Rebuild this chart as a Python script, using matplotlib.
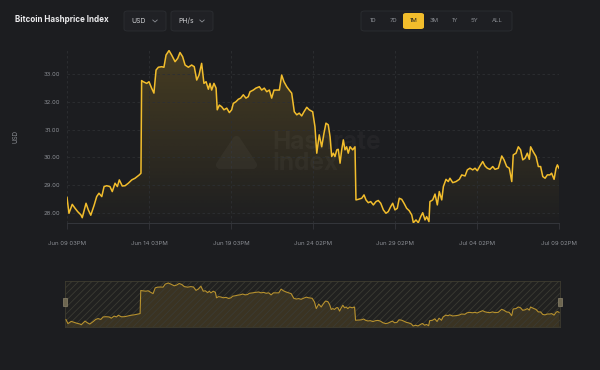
import numpy as np
import matplotlib
matplotlib.use('Agg')
import matplotlib.pyplot as plt
from matplotlib.patches import Polygon, Rectangle, FancyBboxPatch

# days since Jun 09 03PM and hashprice (USD / PH/s / day)
days = [0.00, 0.12, 0.32, 0.49, 0.65, 0.85, 0.93, 1.16, 1.30, 1.45, 1.66, 1.81, 1.95, 2.12,
        2.26, 2.42, 2.62, 2.76, 2.93, 3.07, 3.19, 3.37, 3.54, 3.74, 3.95, 4.15, 4.41, 4.51,
        4.55, 4.65, 4.86, 5.00, 5.16, 5.30, 5.43, 5.57, 5.77, 5.91, 6.04, 6.22, 6.38, 6.59,
        6.75, 6.89, 7.05, 7.20, 7.40, 7.60, 7.76, 7.91, 8.05, 8.21, 8.35, 8.48, 8.62, 8.72,
        8.82, 8.96, 9.09, 9.16, 9.29, 9.43, 9.57, 9.74, 9.90, 10.04, 10.14, 10.30, 10.45,
        10.59, 10.75, 10.91, 11.05, 11.16, 11.36, 11.52, 11.73, 11.87, 12.03, 12.18, 12.34,
        12.48, 12.62, 12.82, 12.95, 13.09, 13.23, 13.40, 13.55, 13.70, 13.86, 14.01, 14.16,
        14.31, 14.45, 14.62, 14.77, 14.98, 15.12, 15.23, 15.38, 15.53, 15.67, 15.79, 15.93,
        16.04, 16.14, 16.24, 16.34, 16.45, 16.54, 16.65, 16.75, 16.85, 16.95, 17.05, 17.15,
        17.26, 17.42, 17.56, 17.62, 17.76, 17.97, 18.11, 18.23, 18.37, 18.52, 18.68, 18.84,
        18.98, 19.13, 19.29, 19.45, 19.59, 19.74, 19.86, 20.00, 20.14, 20.26, 20.41, 20.55,
        20.71, 20.87, 21.02, 21.12, 21.28, 21.42, 21.57, 21.69, 21.83, 21.93, 22.07, 22.13,
        22.30, 22.44, 22.58, 22.70, 22.85, 22.95, 23.11, 23.25, 23.35, 23.52, 23.72, 23.92,
        24.07, 24.27, 24.41, 24.57, 24.74, 24.88, 25.02, 25.18, 25.35, 25.49, 25.63, 25.79,
        25.96, 26.10, 26.30, 26.51, 26.65, 26.81, 26.97, 27.12, 27.21, 27.38, 27.52, 27.66,
        27.79, 27.93, 28.07, 28.19, 28.27, 28.43, 28.60, 28.74, 28.88, 29.01, 29.15, 29.29,
        29.45, 29.55, 29.70, 29.82, 29.90, 30.00]
hashprice = [28.56, 27.99, 28.31, 28.17, 28.05, 27.93, 27.83, 28.35, 28.11, 27.92, 28.29, 28.59,
             28.71, 28.59, 28.95, 28.98, 28.95, 28.77, 29.07, 28.95, 29.19, 28.97, 28.98, 29.07,
             29.19, 29.25, 29.37, 29.43, 32.76, 32.72, 32.66, 32.72, 32.49, 32.31, 33.14, 33.24,
             33.26, 33.24, 33.68, 33.84, 33.68, 33.44, 33.56, 33.77, 33.62, 33.32, 33.24, 33.32,
             33.26, 32.78, 32.96, 33.38, 32.66, 32.72, 32.45, 32.66, 32.42, 32.66, 32.49, 31.71,
             31.88, 31.82, 31.71, 31.77, 31.61, 31.71, 31.94, 32.00, 32.09, 32.13, 32.25, 32.13,
             32.18, 32.36, 32.42, 32.49, 32.54, 32.42, 32.49, 32.36, 32.42, 32.13, 32.42, 32.42,
             32.42, 32.96, 32.72, 32.54, 32.42, 32.31, 31.64, 31.53, 31.59, 31.49, 31.64, 31.80,
             31.71, 31.64, 31.10, 30.15, 30.81, 30.38, 30.87, 31.23, 31.17, 30.74, 30.03, 30.15,
             30.03, 30.27, 30.29, 29.79, 30.27, 30.63, 30.27, 30.38, 30.15, 30.38, 30.27, 30.38,
             28.47, 28.49, 28.53, 28.65, 28.47, 28.37, 28.41, 28.29, 28.41, 28.45, 28.35, 28.11,
             27.99, 28.05, 28.23, 28.35, 28.11, 28.17, 28.53, 28.49, 28.35, 28.17, 28.08, 27.93,
             27.65, 27.75, 27.65, 27.87, 28.01, 27.75, 27.87, 27.69, 28.41, 28.47, 28.68, 28.29,
             28.77, 28.47, 28.95, 29.21, 29.13, 29.25, 29.09, 29.13, 29.21, 29.37, 29.33, 29.55,
             29.61, 29.55, 29.61, 29.52, 29.69, 29.85, 29.69, 29.61, 29.57, 29.67, 29.57, 29.61,
             30.05, 29.91, 29.67, 29.61, 29.13, 30.09, 30.15, 30.38, 30.27, 29.91, 29.97, 30.15,
             29.93, 30.38, 30.20, 30.03, 29.67, 29.67, 29.31, 29.25, 29.37, 29.37, 29.43, 29.21,
             29.61, 29.73, 29.61]

tick_days = [0, 5, 10, 15, 20, 25, 30]
tick_labels = ['Jun 09 03PM', 'Jun 14 03PM', 'Jun 19 03PM', 'Jun 24 02PM',
               'Jun 29 02PM', 'Jul 04 02PM', 'Jul 09 02PM']
y_ticks = [28, 29, 30, 31, 32, 33]
ranges = ['1D', '7D', '1M', '3M', '1Y', '5Y', 'ALL']
active_range = '1M'

bg = '#1c1d20'
yellow = '#f2bd2c'
grey = '#8b8e94'
gridc = '#2d2f33'

plt.rcParams['font.family'] = ['Inter', 'DejaVu Sans']
plt.rcParams['hatch.linewidth'] = 0.6
W, H = 600, 370

def fx(px):
    return px / W

def fy(py):
    return 1 - py / H

# triangle with rounded corners, in pixel coords
def rounded_triangle(pts, r, n=12):
    pts = np.array(pts, dtype=float)
    out = []
    k = len(pts)
    for i in range(k):
        p_prev, p, p_next = pts[i - 1], pts[i], pts[(i + 1) % k]
        e1 = p - p_prev
        e2 = p_next - p
        # outward normals (clockwise in screen y-down coords handled by sign)
        n1 = np.array([e1[1], -e1[0]]) / np.hypot(*e1)
        n2 = np.array([e2[1], -e2[0]]) / np.hypot(*e2)
        a1 = np.arctan2(n1[1], n1[0])
        a2 = np.arctan2(n2[1], n2[0])
        if a2 < a1:
            a2 += 2 * np.pi
        for a in np.linspace(a1, a2, n):
            out.append(p + r * np.array([np.cos(a), np.sin(a)]))
    return np.array(out)

fig = plt.figure(figsize=(6, 3.7), dpi=100, facecolor=bg)

# header
fig.text(fx(15), fy(20), 'Bitcoin Hashprice Index', color='#ececee', fontsize=5.8,
         fontweight='bold', va='center')

def dropdown(x0, x1, label):
    box = FancyBboxPatch((fx(x0), fy(31)), fx(x1 - x0), (31 - 11) / H,
                         boxstyle='round,pad=0,rounding_size=0.006',
                         transform=fig.transFigure, facecolor='#202125',
                         edgecolor='#2c2e32', lw=0.6)
    fig.patches.append(box)
    fig.text(fx(x0 + 7), fy(21), label, color='#d2d3d6', fontsize=4.9, va='center')
    cx = x1 - 11
    fig.lines.append(plt.Line2D([fx(cx - 2.2), fx(cx), fx(cx + 2.2)],
                                [fy(20), fy(22), fy(20)], transform=fig.transFigure,
                                color=grey, lw=0.6))

dropdown(124, 166, 'USD')
dropdown(171, 213, 'PH/s')

# range selector
group = FancyBboxPatch((fx(361), fy(31)), fx(512 - 361), (31 - 11) / H,
                       boxstyle='round,pad=0,rounding_size=0.006',
                       transform=fig.transFigure, facecolor='#1e1f23',
                       edgecolor='#2c2e32', lw=0.6)
fig.patches.append(group)
btn_x = [373, 393, 413.5, 434, 455, 474.5, 497]
for lab, bx in zip(ranges, btn_x):
    col = grey
    if lab == active_range:
        hl = FancyBboxPatch((fx(bx - 10.5), fy(29)), fx(21), 16 / H,
                            boxstyle='round,pad=0,rounding_size=0.005',
                            transform=fig.transFigure, facecolor=yellow, lw=0)
        fig.patches.append(hl)
        col = '#1c1d20'
    fig.text(fx(bx), fy(20.5), lab, color=col, fontsize=4.3, ha='center', va='center')

# main chart
ylo, yhi = 27.64, 33.86
ax = fig.add_axes([fx(67), fy(223), fx(492), 173 / H])
ax.set_facecolor(bg)

# gradient fill under the line
grad = np.zeros((256, 2, 4))
rgb = matplotlib.colors.to_rgb(yellow)
grad[..., 0], grad[..., 1], grad[..., 2] = rgb
grad[..., 3] = np.linspace(0.01, 0.20, 256)[:, None]
im = ax.imshow(grad, extent=[0, 30, ylo, max(hashprice)], origin='lower',
               aspect='auto', zorder=1)
verts = [(days[0], ylo)] + list(zip(days, hashprice)) + [(days[-1], ylo)]
clip = Polygon(verts, closed=True, facecolor='none', edgecolor='none')
ax.add_patch(clip)
im.set_clip_path(clip)
ax.set_xlim(0, 30)
ax.set_ylim(ylo, yhi)

# watermark, behind the line
ax.text(fx(272), fy(153), 'Hashrate\nIndex', transform=fig.transFigure, color='white',
        alpha=0.035, fontsize=17.5, fontweight='bold', va='center', ha='left',
        linespacing=0.85, zorder=2)
tri = rounded_triangle([(236.5, 140), (253, 165), (220, 165)], 4)
logo = Polygon(np.column_stack([fx(tri[:, 0]), fy(tri[:, 1])]), closed=True,
               transform=fig.transFigure, facecolor='white', lw=0, alpha=0.035, zorder=2)
ax.add_patch(logo)

ax.plot(days, hashprice, color=yellow, lw=1.1, zorder=3, solid_joinstyle='round')

ax.set_yticks(y_ticks)
ax.set_yticklabels(['%.2f' % v for v in y_ticks])
ax.set_xticks(tick_days)
ax.set_xticklabels(tick_labels)
ax.grid(True, color=gridc, ls=(0, (3, 3)), lw=0.6, zorder=0)
for s in ['top', 'right', 'left']:
    ax.spines[s].set_visible(False)
ax.spines['bottom'].set_color('#34363b')
ax.spines['bottom'].set_linewidth(0.7)
ax.tick_params(axis='y', length=0, pad=5, labelsize=4.3, labelcolor=grey)
ax.tick_params(axis='x', length=4, width=0.6, color='#34363b', pad=9,
               labelsize=4.3, labelcolor=grey)
ax.set_ylabel('USD', color=grey, fontsize=4.5)
ax.yaxis.set_label_coords(fx(19 - 67) / fx(492), 0.5)

# navigator
ax2 = fig.add_axes([fx(65), fy(327), fx(495), 46 / H])
ax2.set_facecolor('#212120')
ax2.set_xlim(-0.06, 30.06)
ax2.set_ylim(27.5, 34.13)
ax2.fill_between(days, hashprice, 27.5, color='#3a3322', lw=0, zorder=1)
ax2.plot(days, hashprice, color='#b8922e', lw=0.8, zorder=3)
hatch = Rectangle((0, 0), 1, 1, transform=ax2.transAxes, facecolor='none',
                  edgecolor='#3b3b33', hatch='/////', lw=0, zorder=2)
ax2.add_patch(hatch)
ax2.set_xticks([])
ax2.set_yticks([])
for s in ax2.spines.values():
    s.set_color('#3e3c30')
    s.set_linewidth(0.6)

for hx in [65, 560]:
    handle = Rectangle((fx(hx - 2.3), fy(306)), fx(4.6), 8 / H,
                       transform=fig.transFigure, facecolor='#6d6650',
                       edgecolor='#8c846c', lw=0.5)
    fig.patches.append(handle)

fig.savefig('out.png', dpi=100, facecolor=bg)
